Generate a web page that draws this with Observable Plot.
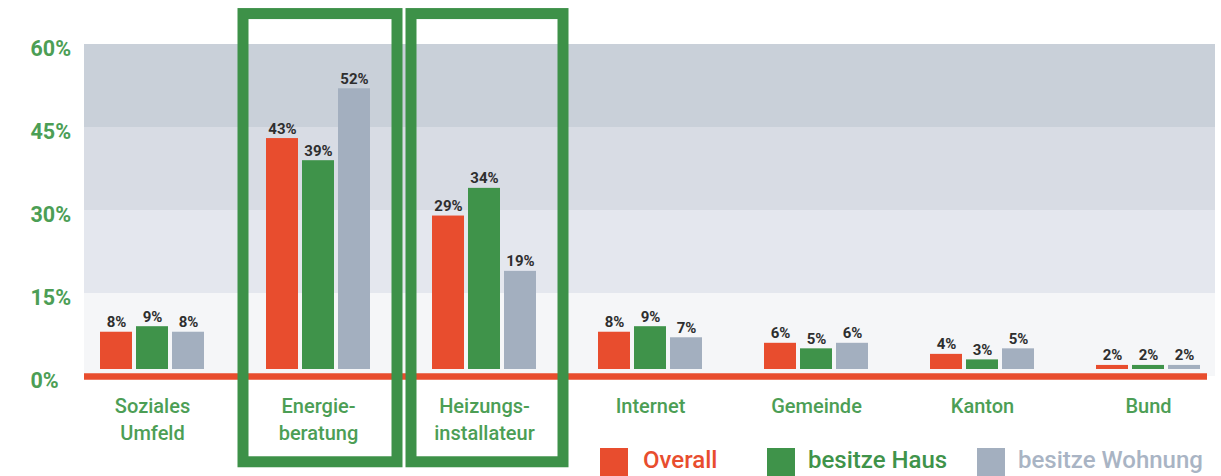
<!DOCTYPE html>
<html>
<head>
<meta charset="utf-8">
<script src="https://cdn.jsdelivr.net/npm/d3@7"></script>
<script src="https://cdn.jsdelivr.net/npm/@observablehq/plot@0.6"></script>
<style>
  html, body { margin: 0; padding: 0; background: #fff; overflow: hidden; }
  #chart { width: 1221px; position: relative; font-family: Roboto, "DejaVu Sans", sans-serif; }
  #legend { position: relative; height: 31px; width: 1221px; }
  .sw { position: absolute; top: 3px; width: 28px; height: 30px; }
  .lt { position: absolute; top: 3px; font-size: 24px; line-height: 24px; font-weight: 500; white-space: nowrap; }
</style>
</head>
<body>
<div id="chart"></div>
<script>
const categories = ["Soziales Umfeld", "Energieberatung", "Heizungsinstallateur", "Internet", "Gemeinde", "Kanton", "Bund"];
const categoryLabels = ["Soziales\nUmfeld", "Energie-\nberatung", "Heizungs-\ninstallateur", "Internet", "Gemeinde", "Kanton", "Bund"];
const series = ["Overall", "besitze Haus", "besitze Wohnung"];
const overall = [8, 43, 29, 8, 6, 4, 2];
const besitzeHaus = [9, 39, 34, 9, 5, 3, 2];
const besitzeWohnung = [8, 52, 19, 7, 6, 5, 2];
const yTicks = [0, 15, 30, 45, 60];
const highlighted = ["Energieberatung", "Heizungsinstallateur"];

const colors = ["#e84d2e", "#3f934a", "#a3afbf"];
const legendTextColors = ["#e84d2e", "#3f934a", "#a9b4c4"];
const green = "#4c9e55";

const seriesValues = [overall, besitzeHaus, besitzeWohnung];
const rows = series.map((s, i) => categories.map((c, j) => ({category: c, series: s, value: seriesValues[i][j]})));

const bands = [
  {y1: 0, y2: 15, fill: "#f5f6f8"},
  {y1: 15, y2: 30, fill: "#e4e7ee"},
  {y1: 30, y2: 45, fill: "#d8dce4"},
  {y1: 45, y2: 60, fill: "#c9d0d9"}
];
const labelOf = new Map(categories.map((c, i) => [c, categoryLabels[i]]));
const offsets = [-36, 0, 36];

const marks = [
  Plot.rectY(bands, {y1: "y1", y2: "y2", fill: "fill"}),
  Plot.ruleY([0], {stroke: "#e84d2e", strokeWidth: 6.5, insetRight: 8})
];
rows.forEach((data, i) => {
  marks.push(Plot.barY(data, {x: "category", y: "value", fill: colors[i], dx: offsets[i], insetBottom: 7}));
  marks.push(Plot.text(data, {x: "category", y: "value", text: d => d.value + "%", dx: offsets[i], dy: -5,
    lineAnchor: "bottom", fill: "#2e2e2e", fontSize: 15, fontWeight: 700}));
});
marks.push(Plot.rect([highlighted[0]], {x: d => d, y1: () => -15.5, y2: () => 65.5, fill: "none",
  stroke: "#3d9148", strokeWidth: 11, insetLeft: -61, insetRight: -61, dx: 2}));
marks.push(Plot.rect([highlighted[1]], {x: d => d, y1: () => -15.5, y2: () => 65.5, fill: "none",
  stroke: "#3d9148", strokeWidth: 11, insetLeft: -60, insetRight: -60, dx: 3}));
marks.push(Plot.axisY(yTicks, {tickSize: 0, tickPadding: 0, textAnchor: "start", dx: -54, dy: 5,
  tickFormat: d => d + "%", fontSize: 21.5, fontWeight: 700, color: green}));
marks.push(Plot.axisX({tickSize: 0, tickPadding: 17, tickFormat: d => labelOf.get(d), fontSize: 20,
  fontWeight: 500, color: green, lineHeight: 1.35}));

const chart = Plot.plot({
  width: 1221,
  height: 445,
  marginTop: 44,
  marginLeft: 84,
  marginRight: 6,
  marginBottom: 69,
  style: {fontFamily: "Roboto, 'DejaVu Sans', sans-serif", overflow: "visible", background: "transparent"},
  x: {domain: categories, range: [69, 1231], paddingInner: 0.807, paddingOuter: 0.4035, label: null},
  y: {domain: [0, 60], label: null},
  marks
});
const root = document.getElementById("chart");
root.appendChild(chart);

const legend = document.createElement("div");
legend.id = "legend";
const swX = [600, 767, 977];
const txX = [643, 808, 1018];
series.forEach((s, i) => {
  const sw = document.createElement("div");
  sw.className = "sw";
  sw.style.left = swX[i] + "px";
  sw.style.background = colors[i];
  const t = document.createElement("div");
  t.className = "lt";
  t.style.left = txX[i] + "px";
  t.style.color = legendTextColors[i];
  t.textContent = s;
  legend.appendChild(sw);
  legend.appendChild(t);
});
root.appendChild(legend);
</script>
</body>
</html>
